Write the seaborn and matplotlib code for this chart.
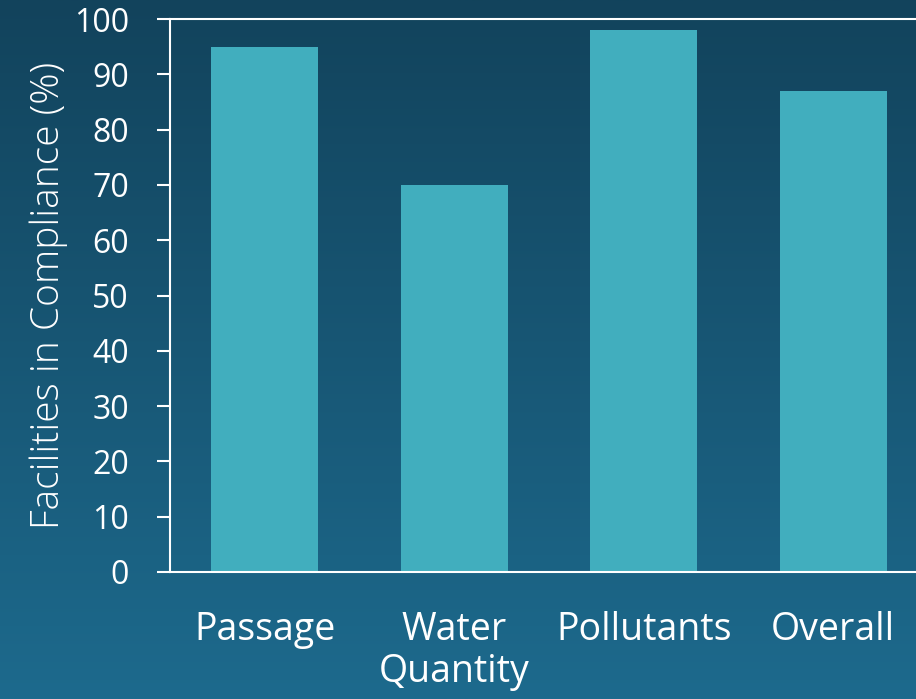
import numpy as np
import pandas as pd
import matplotlib
matplotlib.use("Agg")
import matplotlib.pyplot as plt
from matplotlib.colors import LinearSegmentedColormap
import seaborn as sns

# Compliance by assessment category
categories = ["Passage", "Water\nQuantity", "Pollutants", "Overall"]
compliance = [95, 70, 98, 87]
y_ticks = [0, 10, 20, 30, 40, 50, 60, 70, 80, 90, 100]

sns.set_theme(style="white")
plt.rcParams["font.family"] = ["Open Sans", "DejaVu Sans"]

fig = plt.figure(figsize=(9.16, 6.99), dpi=100)

# Vertical background gradient across the whole figure
bg = fig.add_axes([0, 0, 1, 1], zorder=-10)
grad = np.linspace(0, 1, 256).reshape(-1, 1)
cmap = LinearSegmentedColormap.from_list("bg", ["#12435C", "#1D6A8D"])
bg.imshow(grad, aspect="auto", cmap=cmap, extent=[0, 1, 0, 1], origin="upper")
bg.set_axis_off()

ax = fig.add_axes([170 / 916, 1 - 572 / 699, (928 - 170) / 916, (572 - 19) / 699])
ax.patch.set_alpha(0)

df = pd.DataFrame({"category": categories, "compliance": compliance})
sns.barplot(data=df, x="category", y="compliance", color="#41AEBE",
            saturation=1, width=0.565, edgecolor="none", linewidth=0, ax=ax)

ax.set_xlim(-0.5, 3.5)
ax.set_ylim(0, 100)
ax.set_yticks(y_ticks)
ax.set_yticklabels([str(t) for t in y_ticks])

for side in ["left", "top", "bottom"]:
    ax.spines[side].set_visible(True)
    ax.spines[side].set_color("white")
    ax.spines[side].set_linewidth(1.5)
ax.spines["right"].set_visible(False)

ax.tick_params(axis="y", left=True, length=9.5, width=1.5, color="white",
               labelcolor="white", labelsize=23, pad=20)
ax.tick_params(axis="x", bottom=False, labelcolor="white", labelsize=27,
               pad=22)
for lbl in ax.get_xticklabels():
    lbl.set_linespacing(1.15)

ax.set_xlabel("")
ax.set_ylabel("Facilities in Compliance (%)", color="white", fontsize=28,
              fontweight="light", labelpad=4)

fig.savefig("out.png", dpi=100)
